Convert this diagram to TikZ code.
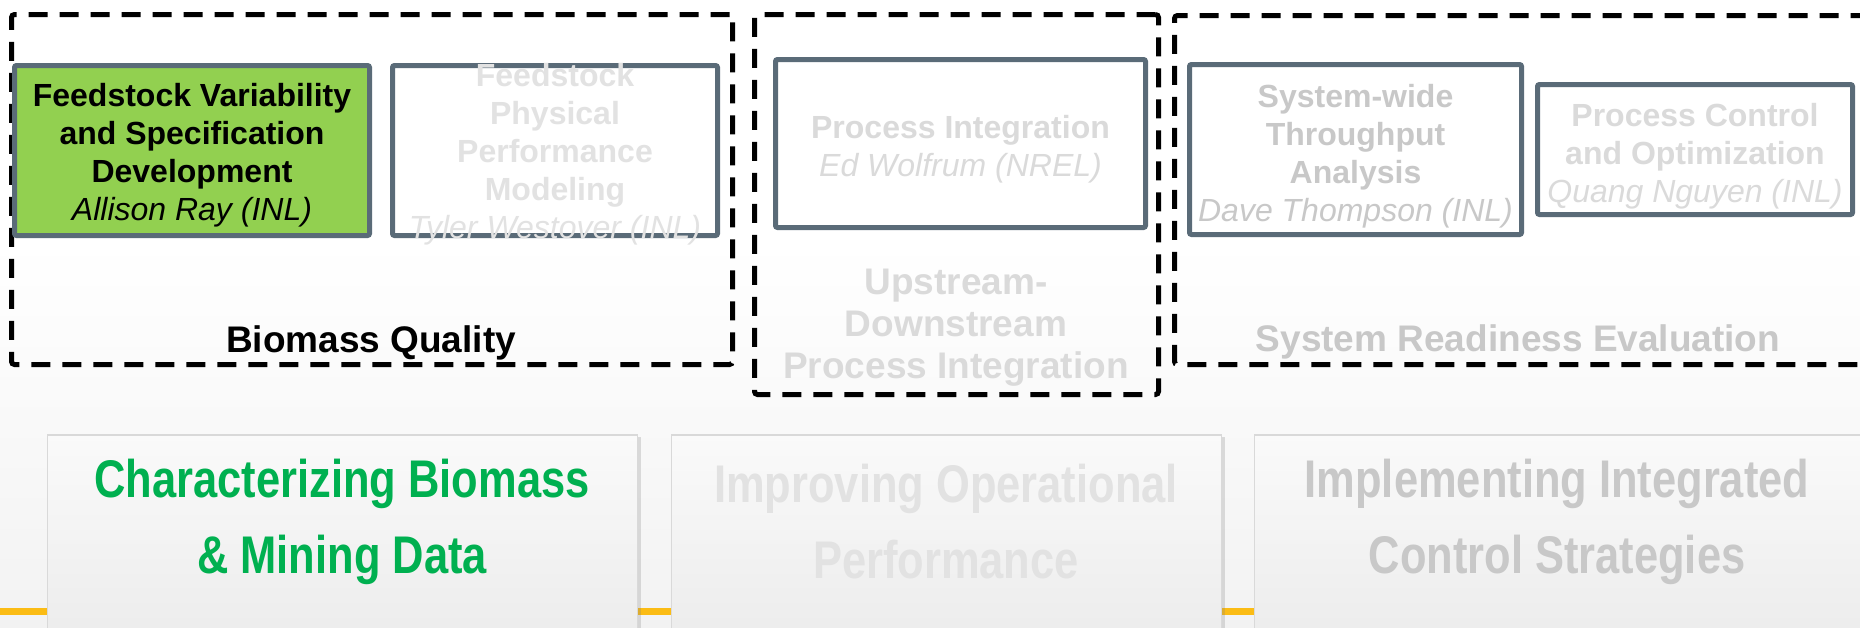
\documentclass[tikz,border=0pt]{standalone}
\usepackage{fontspec}
\setmainfont{Liberation Sans}
\newfontfamily\narrowfont{Liberation Sans}[FakeStretch=0.82]
\usetikzlibrary{shadows}

\definecolor{MSlate}{HTML}{5A6B78}
\definecolor{MLime}{HTML}{92D050}
\definecolor{MGreen}{HTML}{00B050}
\definecolor{MGold}{HTML}{FBBC15}
\definecolor{FadeA}{HTML}{E2E2E2}
\definecolor{FadeB}{HTML}{DADADA}
\definecolor{FadeC}{HTML}{C8C8C8}

\tikzset{
	group/.style={draw=black, line width=5pt, dash pattern=on 19pt off 12pt, rounded corners=3pt, inner sep=0pt},
	card/.style={draw=MSlate, fill=white, line width=5pt, rounded corners=2pt, inner sep=0pt},
	cardtext/.style={align=center, font=\fontsize{32}{38}\selectfont\bfseries},
	grouplabel/.style={align=center, font=\fontsize{37}{42}\selectfont\bfseries},
	panel/.style={draw=black!15, line width=1.5pt, top color=black!2, bottom color=black!8, inner sep=0pt,
		drop shadow={shadow xshift=3pt, shadow yshift=-2pt, opacity=0.25}},
	paneltext/.style={align=center, font=\narrowfont\fontsize{53}{76}\selectfont\bfseries}
}

\begin{document}
\begin{tikzpicture}[x=1pt, y=-1pt]
			\useasboundingbox (0,0) rectangle (1860,627);
			\fill[white] (0,0) rectangle (1860,627);
			\shade[top color=white, bottom color=black!5] (0,240) rectangle (1860,627);
			
			\draw[MGold, line width=7pt] (0,611) -- (1860,611);
			
			\node[panel, minimum width=590pt, minimum height=225pt] (biomass) at (342.5,547.5) {};
			\node[panel, minimum width=550pt, minimum height=225pt] (operation) at (946.5,547.5) {};
			\node[panel, minimum width=615pt, minimum height=225pt] (control) at (1562,547.5) {};
			\node[paneltext, text=MGreen] at (342,522) {Characterizing Biomass\\ \& Mining Data};
			\node[paneltext, text=FadeA] at (946,522) {Improving Operational\\ Performance};
			\node[paneltext, text=FadeC] at (1557,522) {Implementing Integrated\\ Control Strategies};
			
			\node[group, minimum width=721pt, minimum height=350pt] (quality) at (372,189.5) {};
			\node[group, minimum width=404pt, minimum height=380pt] (updown) at (956.5,204.5) {};
			\node[group, minimum width=698pt, minimum height=349pt] (readiness) at (1523.5,190) {};
			
			\node[card, fill=MLime, minimum width=355pt, minimum height=170pt] (variab) at (192,150.5) {};
			\node[card, minimum width=325pt, minimum height=170pt] (physical) at (555,150.5) {};
			\node[card, minimum width=370pt, minimum height=168pt] (integ) at (960.5,143.5) {};
			\node[card, minimum width=332pt, minimum height=170pt] (through) at (1355.5,149.5) {};
			\node[card, minimum width=315pt, minimum height=130pt] (optim) at (1695,149.5) {};
			
			\node[cardtext] (variabtxt) at (192,155.5) {Feedstock Variability\\ and Specification\\ Development\\ {\mdseries\itshape Allison Ray (INL)}};
			\node[cardtext, text=FadeA] (physicaltxt) at (555,154.5) {Feedstock\\ Physical\\ Performance\\ Modeling\\ {\mdseries\itshape Tyler Westover (INL)}};
			\node[cardtext, text=FadeB] (integtxt) at (960.5,149) {Process Integration\\ {\mdseries\itshape Ed Wolfrum (NREL)}};
			\node[cardtext, text=FadeC] (throughtxt) at (1355.5,156.5) {System-wide\\ Throughput\\ Analysis\\ {\mdseries\itshape Dave Thompson (INL)}};
			\node[cardtext, text=FadeB] (optimtxt) at (1695,156) {Process Control\\ and Optimization\\ {\mdseries\itshape Quang Nguyen (INL)}};
			
			\node[grouplabel] (qualitytxt) at (371,343) {Biomass Quality};
			\node[grouplabel, text=FadeB] (updowntxt) at (956,328) {Upstream-\\ Downstream\\ Process Integration};
			\node[grouplabel, text=FadeC] (readinesstxt) at (1518,342) {System Readiness Evaluation};
			
		\end{tikzpicture}
\end{document}
